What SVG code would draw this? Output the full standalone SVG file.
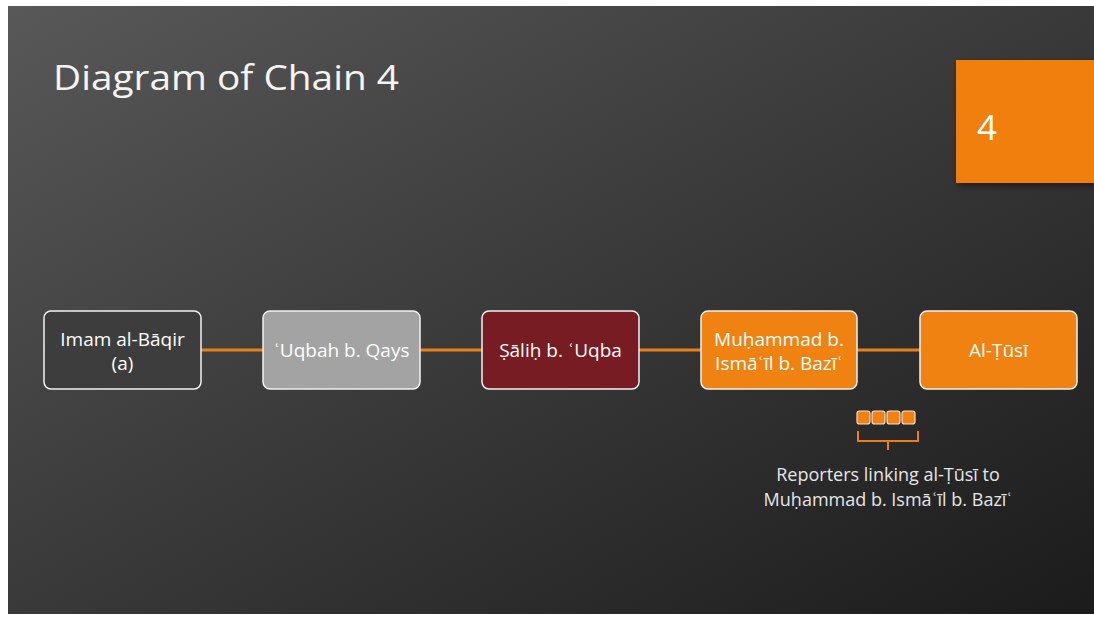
<svg xmlns="http://www.w3.org/2000/svg" width="1094" height="617" viewBox="0 0 1094 617">
<defs>
<linearGradient id="bg" x1="0" y1="0" x2="1" y2="1">
<stop offset="0" stop-color="#585858"/>
<stop offset="0.45" stop-color="#3c3c3c"/>
<stop offset="1" stop-color="#1b1b1b"/>
</linearGradient>
<filter id="sh" x="-10%" y="-10%" width="130%" height="130%">
<feDropShadow dx="2" dy="3" stdDeviation="3" flood-color="#000" flood-opacity="0.45"/>
</filter>
</defs>
<style>
.node{stroke:#f2f2f2;stroke-width:1.5}
.lbl{font-family:"Open Sans","Liberation Sans",sans-serif;font-size:19px;fill:#ffffff;text-anchor:middle}
.conn{stroke:#e8801a;stroke-width:3;fill:none}
.sq{fill:#f08214;stroke:#f4e2cc;stroke-width:1.2}
.cap{font-family:"Open Sans","Liberation Sans",sans-serif;font-size:18px;fill:#e6e6e6;text-anchor:middle}
</style>
<rect width="1094" height="617" fill="#ffffff"/>
<rect x="8" y="6" width="1086" height="608" fill="url(#bg)"/>
<text x="53" y="90" font-family="Open Sans,Liberation Sans,sans-serif" font-size="35" fill="#f4f4f4" textLength="346" lengthAdjust="spacingAndGlyphs">Diagram of Chain 4</text>
<g id="badge">
<rect x="956" y="60" width="138" height="123" fill="#f07f0a" filter="url(#sh)"/>
<text x="977" y="140" font-family="Open Sans,Liberation Sans,sans-serif" font-size="35" fill="#ffffff">4</text>
</g>
<g id="connectors">
<line class="conn" x1="201" y1="350" x2="263" y2="350"/>
<line class="conn" x1="420" y1="350" x2="482" y2="350"/>
<line class="conn" x1="639" y1="350" x2="701" y2="350"/>
<line class="conn" x1="857" y1="350" x2="920" y2="350"/>
</g>
<g id="n1">
<rect class="node" x="44" y="311" width="157" height="78" rx="7" fill="#3d3d3d"/>
<text class="lbl" x="122.5" y="346">Imam al-Bāqir</text>
<text class="lbl" x="122.5" y="370">(a)</text>
</g>
<g id="n2">
<rect class="node" x="263" y="311" width="157" height="78" rx="7" fill="#a3a3a3"/>
<text class="lbl" x="341.5" y="357">ʿUqbah b. Qays</text>
</g>
<g id="n3">
<rect class="node" x="482" y="311" width="157" height="78" rx="7" fill="#781c24"/>
<text class="lbl" x="560.5" y="357">Ṣāliḥ b. ʿUqba</text>
</g>
<g id="n4">
<rect class="node" x="701" y="311" width="156" height="78" rx="7" fill="#f08212"/>
<text class="lbl" x="779" y="346">Muḥammad b.</text>
<text class="lbl" x="779" y="370">Ismāʿīl b. Bazīʿ</text>
</g>
<g id="n5">
<rect class="node" x="920" y="311" width="157" height="78" rx="7" fill="#f08212"/>
<text class="lbl" x="998.5" y="357">Al-Ṭūsī</text>
</g>
<g id="reporters">
<rect class="sq" x="857" y="411" width="13" height="13" rx="2.5"/>
<rect class="sq" x="872" y="411" width="13" height="13" rx="2.5"/>
<rect class="sq" x="887" y="411" width="13" height="13" rx="2.5"/>
<rect class="sq" x="902" y="411" width="13" height="13" rx="2.5"/>
<path d="M858,431 V441 H918 V431 M888,441 V450" fill="none" stroke="#e8801a" stroke-width="2"/>
<text class="cap" x="888" y="481">Reporters linking al-Ṭūsī to</text>
<text class="cap" x="888" y="506">Muḥammad b. Ismāʿīl b. Bazīʿ</text>
</g>
</svg>
